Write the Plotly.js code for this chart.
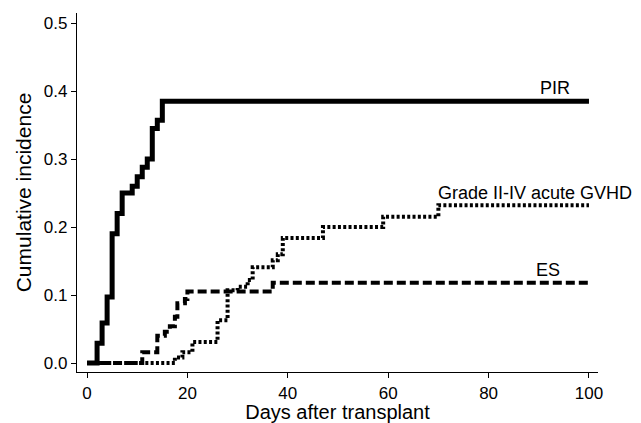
<!DOCTYPE html>
<html>
<head>
<meta charset="utf-8">
<script src="https://cdn.plot.ly/plotly-3.0.1.min.js"></script>
<style>html,body{margin:0;padding:0;background:#fff;}#chart{width:641px;height:423px;}</style>
</head>
<body>
<div id="chart"></div>
<script>
// PIR (cumulative incidence)
const pirDays = [0, 2, 3, 4, 5, 6, 7, 9, 10, 11, 12, 13, 14, 15, 100];
const pirInc  = [0, 0.029, 0.059, 0.097, 0.19, 0.22, 0.25, 0.26, 0.274, 0.288, 0.30, 0.345, 0.357, 0.385, 0.385];
// ES
const esDays = [0, 11, 14, 15.5, 16.5, 17.5, 18, 19.5, 20, 37, 100];
const esInc  = [0, 0.016, 0.04, 0.046, 0.054, 0.068, 0.088, 0.094, 0.105, 0.118, 0.118];
// Grade II-IV acute GVHD
const gvhdDays = [0, 17.5, 19, 21, 26, 28, 30, 32, 33, 37, 38, 39, 47, 59, 70, 100];
const gvhdInc  = [0, 0.008, 0.016, 0.031, 0.063, 0.107, 0.112, 0.122, 0.141, 0.151, 0.16, 0.184, 0.2, 0.215, 0.232, 0.232];

const xTicks = [0, 20, 40, 60, 80, 100];
const yTicks = [0, 0.1, 0.2, 0.3, 0.4, 0.5];
const yTickText = ["0.0", "0.1", "0.2", "0.3", "0.4", "0.5"];

const labelPIR = "PIR";
const labelES = "ES";
const labelGVHD = "Grade II-IV acute GVHD";

const FONT = '"Liberation Sans", Arial, Helvetica, sans-serif';

const traces = [
  {x: gvhdDays, y: gvhdInc, mode: 'lines', line: {shape: 'hv', color: '#000', width: 4, dash: '3px,2.3px'}, hoverinfo: 'skip'},
  {x: esDays, y: esInc, mode: 'lines', line: {shape: 'hv', color: '#000', width: 4, dash: '9px,4px'}, hoverinfo: 'skip'},
  {x: pirDays, y: pirInc, mode: 'lines', line: {shape: 'hv', color: '#000', width: 5}, hoverinfo: 'skip'}
];

const layout = {
  width: 641, height: 423,
  margin: {l: 77, r: 43, t: 13, b: 51},
  paper_bgcolor: '#fff', plot_bgcolor: '#fff',
  showlegend: false,
  font: {family: FONT, color: '#000', size: 16},
  xaxis: {
    range: [-2, 101.8], tickvals: xTicks, ticks: 'outside', ticklen: 5, tickwidth: 1, tickcolor: '#000',
    showline: true, linecolor: '#000', linewidth: 1.2, showgrid: false, zeroline: false,
    tickfont: {family: FONT, size: 17},
    title: {text: 'Days after transplant', font: {family: FONT, size: 20}, standoff: 4}
  },
  yaxis: {
    range: [-0.0132, 0.5147], tickvals: yTicks, ticktext: yTickText, ticks: 'outside', ticklen: 5, tickwidth: 1, tickcolor: '#000',
    showline: true, linecolor: '#000', linewidth: 1.2, showgrid: false, zeroline: false,
    tickfont: {family: FONT, size: 17},
    title: {text: 'Cumulative incidence', font: {family: FONT, size: 21}, standoff: 6}
  },
  annotations: [
    {x: 93.2, y: 0.404, xref: 'x', yref: 'y', text: labelPIR, showarrow: false, xanchor: 'center', yanchor: 'middle', font: {family: FONT, size: 18}},
    {x: 91.8, y: 0.137, xref: 'x', yref: 'y', text: labelES, showarrow: false, xanchor: 'center', yanchor: 'middle', font: {family: FONT, size: 18}},
    {x: 89.2, y: 0.25, xref: 'x', yref: 'y', text: labelGVHD, showarrow: false, xanchor: 'center', yanchor: 'middle', font: {family: FONT, size: 18}}
  ]
};

Plotly.newPlot('chart', traces, layout, {staticPlot: true, displayModeBar: false});
</script>
</body>
</html>
